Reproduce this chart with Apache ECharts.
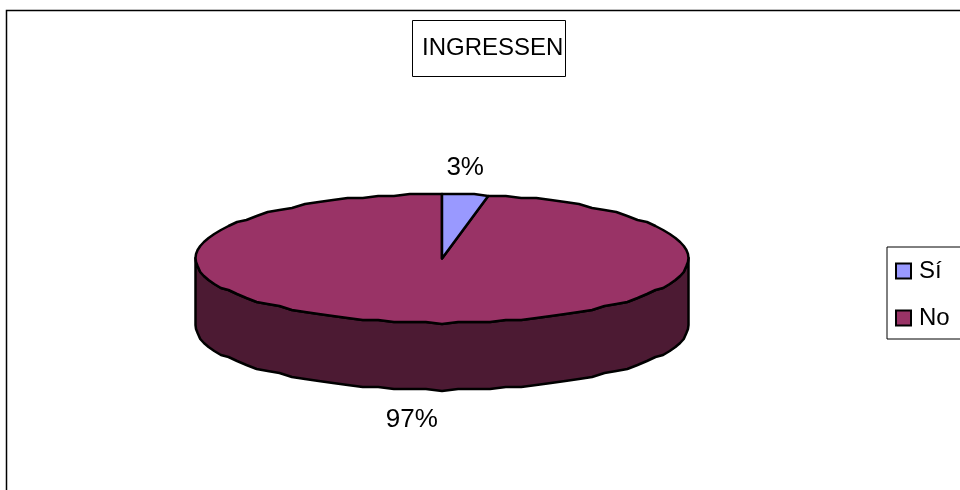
<!DOCTYPE html>
<html>
<head>
<meta charset="utf-8">
<style>html,body{margin:0;padding:0;background:#fff}#c{width:960px;height:490px}</style>
<script src="https://cdn.jsdelivr.net/npm/echarts@6/dist/echarts.min.js"></script>
</head>
<body>
<div id="c"></div>
<script>
const categories = ['Sí', 'No'];
const values = [3, 97];
const percentLabels = ['3%', '97%'];
const titleText = 'INGRESSEN';
const topColors = ['#9999FF', '#993366'];
const wallColor = '#4C1A33';

const chart = echarts.init(document.getElementById('c'), null, {renderer: 'canvas'});
const FONT = 'Liberation Sans';
const CX = 442, CY = 258.5, RX = 246.5, RY = 64.5, DEPTH = 67;
const total = values.reduce((a, b) => a + b, 0);
const STEP = Math.PI * 2 / 96;

function pt(a, dy) {
  const y = CY - Math.cos(a) * RY;
  return [CX + Math.sin(a) * RX, Math.round(y / 2) * 2 + (dy || 0)];
}
function arc(a0, a1, dy) {
  const out = [];
  let k = Math.ceil(a0 / STEP + 1e-6);
  out.push(pt(a0, dy));
  while (k * STEP < a1 - 1e-6) { out.push(pt(k * STEP, dy)); k++; }
  out.push(pt(a1, dy));
  return out;
}
function makeRender(index) {
  return function (params, api) {
    let before = 0;
    for (let i = 0; i < index; i++) before += values[i];
    const a0 = before / total * Math.PI * 2;
    const a1 = (before + api.value(0)) / total * Math.PI * 2;
    const children = [];
    const lineStyle = {stroke: '#000', lineWidth: 2.5, lineJoin: 'round'};
    const w0 = Math.max(a0, Math.PI / 2), w1 = Math.min(a1, Math.PI * 1.5);
    if (w1 > w0) {
      const up = arc(w0, w1, 0), down = arc(w0, w1, DEPTH).reverse();
      children.push({type: 'polygon', shape: {points: up.concat(down)},
        style: Object.assign({fill: wallColor}, lineStyle)});
    }
    children.push({type: 'polygon',
      shape: {points: [[CX, CY]].concat(arc(a0, a1, 0))},
      style: Object.assign({fill: topColors[index]}, lineStyle)});
    const mid = (a0 + a1) / 2;
    const below = Math.cos(mid) < 0;
    children.push({type: 'text',
      style: {
        x: CX + Math.sin(mid) * RX + (below ? -7 : 0),
        y: below ? CY + RY + DEPTH + 30 : CY - RY - 26,
        text: percentLabels[index], fill: '#000',
        font: '26px "' + FONT + '"', align: 'center', verticalAlign: 'middle'
      }});
    return {type: 'group', children};
  };
}

chart.setOption({
  animation: false,
  backgroundColor: '#fff',
  title: {
    text: titleText, left: 412, top: 20,
    padding: [14, 2, 15, 10],
    borderColor: '#000', borderWidth: 1,
    textStyle: {fontFamily: FONT, fontSize: 24, fontWeight: 'normal', color: '#000', lineHeight: 28}
  },
  legend: {
    orient: 'vertical', left: 887, top: 247,
    padding: [12, 80, 9, 8], itemGap: 23,
    borderColor: '#000', borderWidth: 1,
    icon: 'rect', itemWidth: 15, itemHeight: 15,
    data: categories.map(n => ({name: n, itemStyle: {borderColor: '#000', borderWidth: 2}})),
    textStyle: {fontFamily: FONT, fontSize: 24, color: '#000', padding: [0, 0, 0, 3]}
  },
  graphic: [{type: 'rect', silent: true, z: -1,
    shape: {x: 6.5, y: 10.5, width: 980, height: 500},
    style: {fill: 'none', stroke: '#000', lineWidth: 1.5}}],
  series: categories.map((name, i) => ({
    type: 'custom', name, coordinateSystem: 'none',
    z: i === 0 ? 3 : 2,
    itemStyle: {color: topColors[i]},
    data: [{name, value: [values[i]]}],
    renderItem: makeRender(i)
  }))
});
</script>
</body>
</html>
